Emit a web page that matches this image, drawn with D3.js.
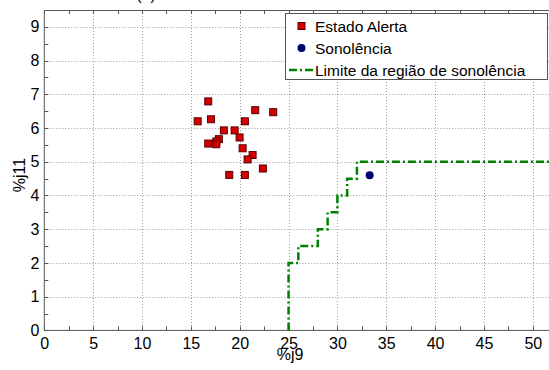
<!DOCTYPE html>
<html>
<head>
<meta charset="utf-8">
<script src="https://cdn.jsdelivr.net/npm/d3@7"></script>
<style>
  body { margin: 0; background: #fff; }
  svg { display: block; font-family: "Liberation Sans", Arial, sans-serif; }
</style>
</head>
<body>
<script>
'use strict';

// estado alerta points
const alertX = [16.78, 15.70, 17.06, 21.59, 23.43, 20.53, 18.38, 19.48, 17.87, 17.60, 17.60, 19.99, 16.78, 20.30, 21.32, 20.81, 22.37, 18.93, 20.53];
const alertY = [6.79, 6.20, 6.26, 6.53, 6.47, 6.20, 5.93, 5.93, 5.67, 5.60, 5.52, 5.72, 5.54, 5.40, 5.20, 5.07, 4.80, 4.61, 4.61];

// sonolencia point
const sonoX = [33.3];
const sonoY = [4.6];

// limit of the drowsiness region (step after)
const limitX = [25, 25, 26, 28, 29, 30, 31, 32, 60];
const limitY = [0, 2, 2.5, 3, 3.5, 4, 4.5, 5, 5];

const xTickValues = [0, 5, 10, 15, 20, 25, 30, 35, 40, 45, 50];
const yTickValues = [0, 1, 2, 3, 4, 5, 6, 7, 8, 9];
const legendLabels = ["Estado Alerta", "Sonolência", "Limite da região de sonolência"];

(function() {

    const W = 549, H = 370;
    const pLeft = 44.3, pRight = 552, pTop = 10, pBottom = 330.4;

    const svg = d3.select("body").append("svg")
        .attr("width", W)
        .attr("height", H);

    const x = d3.scaleLinear().domain([0, 52]).range([pLeft, pLeft + 52 * 9.77]);
    const y = d3.scaleLinear().domain([0, 9.5]).range([pBottom, pTop]);

    // clip to plot area
    svg.append("clipPath").attr("id", "plotClip")
        .append("rect")
        .attr("x", pLeft).attr("y", pTop)
        .attr("width", pRight - pLeft).attr("height", pBottom - pTop);

    // grid lines
    const grid = svg.append("g").attr("stroke", "#9a9a9a").attr("stroke-dasharray", "1,2").attr("stroke-width", 1);
    grid.selectAll(".gx").data(xTickValues.slice(1))
        .enter().append("line")
        .attr("x1", d => Math.round(x(d)) + 0.5).attr("x2", d => Math.round(x(d)) + 0.5)
        .attr("y1", pTop).attr("y2", pBottom);
    grid.selectAll(".gy").data(yTickValues.slice(1))
        .enter().append("line")
        .attr("x1", pLeft).attr("x2", pRight)
        .attr("y1", d => Math.round(y(d)) + 0.5).attr("y2", d => Math.round(y(d)) + 0.5);

    // axes, ticks pointing inward
    const axisColor = "#555";
    const xMinor = d3.range(0, 52.6, 2.5);
    const yMinor = d3.range(0, 9.6, 0.5);

    const xAxis = d3.axisBottom(x).tickValues(xTickValues).tickSize(0).tickPadding(7);
    const gx = svg.append("g")
        .attr("transform", "translate(0," + pBottom + ")")
        .call(xAxis);
    gx.select(".domain").remove();
    gx.selectAll("text").attr("font-size", "16px").attr("fill", "#000")
        .attr("font-family", "Liberation Sans, Arial, sans-serif");

    const yAxis = d3.axisLeft(y).tickValues(yTickValues).tickSize(0).tickPadding(5);
    const gy = svg.append("g")
        .attr("transform", "translate(" + pLeft + ",0)")
        .call(yAxis);
    gy.select(".domain").remove();
    gy.selectAll("text").attr("font-size", "16px").attr("fill", "#000")
        .attr("font-family", "Liberation Sans, Arial, sans-serif");

    const ticks = svg.append("g").attr("stroke", axisColor).attr("stroke-width", 1);
    // bottom and top ticks
    ticks.selectAll(".tb").data(xMinor).enter().append("line")
        .attr("x1", d => Math.round(x(d)) + 0.5).attr("x2", d => Math.round(x(d)) + 0.5)
        .attr("y1", pBottom).attr("y2", pBottom - 4);
    ticks.selectAll(".tt").data(xMinor).enter().append("line")
        .attr("x1", d => Math.round(x(d)) + 0.5).attr("x2", d => Math.round(x(d)) + 0.5)
        .attr("y1", pTop).attr("y2", pTop + 4);
    ticks.selectAll(".tl").data(yMinor).enter().append("line")
        .attr("x1", pLeft).attr("x2", pLeft + 4)
        .attr("y1", d => Math.round(y(d)) + 0.5).attr("y2", d => Math.round(y(d)) + 0.5);

    // frame lines
    svg.append("line").attr("x1", pLeft).attr("x2", pRight).attr("y1", pBottom).attr("y2", pBottom)
        .attr("stroke", axisColor);
    svg.append("line").attr("x1", pLeft).attr("x2", pRight).attr("y1", pTop + 0.5).attr("y2", pTop + 0.5)
        .attr("stroke", axisColor);
    svg.append("line").attr("x1", pLeft).attr("x2", pLeft).attr("y1", pTop).attr("y2", pBottom)
        .attr("stroke", axisColor);

    // limit line
    const limitData = limitX.map((d, i) => ({ x: d, y: limitY[i] }));
    const line = d3.line().x(d => x(d.x)).y(d => y(d.y)).curve(d3.curveStepAfter);
    svg.append("path")
        .datum(limitData)
        .attr("clip-path", "url(#plotClip)")
        .attr("fill", "none")
        .attr("stroke", "#008000")
        .attr("stroke-width", 2.5)
        .attr("stroke-dasharray", "8,3,2,3")
        .attr("d", line);

    // alert squares
    const alertData = alertX.map((d, i) => ({ x: d, y: alertY[i] }));
    svg.selectAll(".sq").data(alertData).enter().append("rect")
        .attr("x", d => x(d.x) - 3.5)
        .attr("y", d => y(d.y) - 3.5)
        .attr("width", 7).attr("height", 7)
        .attr("fill", "#d40000")
        .attr("stroke", "#5a0000")
        .attr("stroke-width", 1);

    // drowsiness points
    const sonoData = sonoX.map((d, i) => ({ x: d, y: sonoY[i] }));
    svg.selectAll(".dot").data(sonoData).enter().append("circle")
        .attr("cx", d => x(d.x))
        .attr("cy", d => y(d.y))
        .attr("r", 4)
        .attr("fill", "#000070");

    // axis labels
    svg.append("text")
        .attr("x", 290).attr("y", 360)
        .attr("text-anchor", "middle")
        .style("font-size", "16px")
        .text("%j9");
    svg.append("text")
        .attr("transform", "translate(25,175)rotate(-90)")
        .attr("text-anchor", "middle")
        .style("font-size", "16px")
        .text("%j11");

    // title, cut off at the top edge as in the original figure
    svg.append("text")
        .attr("x", 146).attr("y", 0)
        .attr("text-anchor", "middle")
        .style("font-size", "16px")
        .text("(b)");

    // legend
    const lg = svg.append("g");
    lg.append("rect")
        .attr("x", 285.5).attr("y", 13.5)
        .attr("width", 262).attr("height", 66)
        .attr("fill", "#fff")
        .attr("stroke", "#555");
    const rowY = [26, 48, 70];
    lg.append("rect")
        .attr("x", 298).attr("y", rowY[0] - 3.5)
        .attr("width", 7).attr("height", 7)
        .attr("fill", "#d40000").attr("stroke", "#5a0000");
    lg.append("circle")
        .attr("cx", 301.5).attr("cy", rowY[1])
        .attr("r", 4).attr("fill", "#000070");
    lg.append("line")
        .attr("x1", 289).attr("x2", 314)
        .attr("y1", rowY[2]).attr("y2", rowY[2])
        .attr("stroke", "#008000").attr("stroke-width", 2.5)
        .attr("stroke-dasharray", "8,3,2,3");
    lg.selectAll(".lt").data(legendLabels).enter().append("text")
        .attr("x", 315)
        .attr("y", (d, i) => rowY[i] + 5.5)
        .style("font-size", "15.5px")
        .text(d => d);

})();
</script>
</body>
</html>
